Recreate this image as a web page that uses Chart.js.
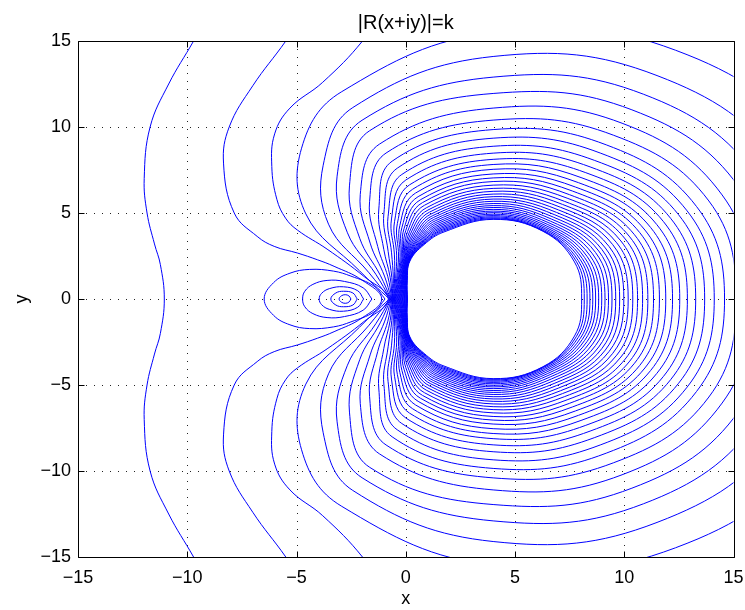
<!DOCTYPE html>
<html>
<head>
<meta charset="utf-8">
<script src="https://cdn.jsdelivr.net/npm/chart.js@4.4.1/dist/chart.umd.min.js"></script>
<style>
  html, body { margin: 0; padding: 0; background: #fff; }
  canvas { display: block; }
</style>
</head>
<body>
<canvas id="chart" width="745" height="610"></canvas>
<script>
// |R(x+iy)| = k  -- contour lines (upper half, the plot is symmetric in y)
const xTicks = [-15, -10, -5, 0, 5, 10, 15];
const yTicks = [-15, -10, -5, 0, 5, 10, 15];

// rings round the white hole: distance from (4, 0) along rays at these angles (degrees)
const ringCentre = [4, 0];
const ringAngles = [0, 30, 60, 90, 120, 135, 150, 165, 180];
const ringR0   = [16.0, 14.6, 13.5, 12.6, 11.8, 11.12, 10.59, 10.12, 9.68, 9.27, 8.89, 8.54, 8.21, 7.9, 7.61, 7.34, 7.08, 6.84, 6.61, 6.39, 6.18, 5.98, 5.79, 5.61, 5.44, 5.28, 5.12, 4.97, 4.83, 4.69, 4.56, 4.43, 4.3, 4.17, 4.05];
const ringR30  = [17.0, 15.3, 14.0, 13.0, 12.1, 11.4, 10.75, 10.25, 9.8, 9.38, 9.0, 8.65, 8.32, 8.02, 7.74, 7.47, 7.22, 6.98, 6.75, 6.53, 6.32, 6.12, 5.93, 5.75, 5.58, 5.41, 5.25, 5.1, 4.96, 4.83, 4.71, 4.6, 4.49, 4.39, 4.3];
const ringR60  = [16.7, 15.0, 13.75, 12.7, 11.8, 11.0, 10.35, 9.8, 9.3, 8.87, 8.48, 8.13, 7.81, 7.52, 7.25, 7.0, 6.77, 6.55, 6.35, 6.16, 5.98, 5.81, 5.65, 5.5, 5.36, 5.23, 5.11, 5.0, 4.9, 4.81, 4.73, 4.66, 4.6, 4.57, 4.55];
const ringR90  = [15.5, 14.1, 12.9, 11.95, 11.1, 10.4, 9.85, 9.35, 8.88, 8.48, 8.12, 7.82, 7.54, 7.27, 7.04, 6.83, 6.62, 6.43, 6.26, 6.1, 5.95, 5.81, 5.68, 5.55, 5.43, 5.32, 5.21, 5.11, 5.02, 4.93, 4.85, 4.78, 4.72, 4.67, 4.63];
const ringR120 = [13.9, 12.85, 12.0, 11.3, 10.4, 9.8, 9.25, 8.78, 8.36, 7.99, 7.66, 7.37, 7.11, 6.87, 6.66, 6.47, 6.29, 6.12, 5.97, 5.83, 5.7, 5.58, 5.47, 5.36, 5.26, 5.16, 5.07, 4.98, 4.9, 4.82, 4.75, 4.68, 4.62, 4.56, 4.5];
const ringR135 = [12.4, 11.0, 10.1, 9.3, 8.6, 8.0, 7.4, 7.07, 6.8, 6.58, 6.38, 6.2, 6.04, 5.9, 5.77, 5.65, 5.54, 5.44, 5.35, 5.26, 5.18, 5.1, 5.03, 4.96, 4.9, 4.84, 4.78, 4.73, 4.68, 4.64, 4.6, 4.56, 4.53, 4.5, 4.47];
const ringR150 = [9.9, 8.7, 7.7, 7.05, 6.5, 6.1, 5.78, 5.55, 5.37, 5.22, 5.1, 5.0, 4.92, 4.86, 4.81, 4.77, 4.73, 4.7, 4.67, 4.64, 4.62, 4.6, 4.58, 4.56, 4.54, 4.52, 4.5, 4.49, 4.47, 4.46, 4.45, 4.44, 4.43, 4.42, 4.4];
const ringR165 = [6.33, 5.88, 5.56, 5.35, 5.15, 4.99, 4.88, 4.8, 4.73, 4.67, 4.62, 4.57, 4.53, 4.49, 4.46, 4.43, 4.4, 4.37, 4.34, 4.32, 4.3, 4.28, 4.26, 4.24, 4.22, 4.2, 4.18, 4.17, 4.15, 4.14, 4.12, 4.11, 4.1, 4.08, 4.07];
const ringR180 = [4.75, 4.72, 4.7, 4.68, 4.66, 4.64, 4.62, 4.6, 4.58, 4.56, 4.54, 4.52, 4.5, 4.48, 4.45, 4.42, 4.39, 4.36, 4.33, 4.3, 4.27, 4.24, 4.21, 4.18, 4.15, 4.12, 4.09, 4.06, 4.03, 4.0, 3.98, 3.96, 3.95, 3.94, 3.92];

// open curves on the left, from the top edge down to y = 0
const leftCurve1 = [[-9.2, 16.2], [-9.71, 15], [-10.85, 12.5], [-11.7, 10], [-11.97, 7], [-11.84, 5], [-11.5, 3.2], [-11.23, 2.0], [-11.05, 0]];
const leftCurve2 = [[-4.9, 16.2], [-5.49, 15], [-7.0, 12.4], [-8.08, 10], [-8.34, 7.9], [-7.85, 5], [-6.8, 3.64], [-6.02, 3.06], [-4.95, 2.67], [-4.04, 2.28], [-3.28, 1.9], [-2.0, 1.1], [-1.1, 0]];
const leftCurve3 = [[-1.5, 16.2], [-1.98, 15], [-3.8, 12.6], [-5.3, 11.1], [-6.0, 9.6], [-6.13, 7.7], [-5.9, 5.8], [-5.5, 4.7], [-4.95, 4.0], [-3.6, 2.9], [-1.9, 1.3], [-0.8, 0]];

// closed loops round the zero near x = -2.8, from the right end over the top to the left end
const zeroLoop1 = [[-0.95, 0], [-1.45, 0.75], [-2.51, 1.33], [-3.3, 1.62], [-4.4, 1.72], [-5.3, 1.5], [-6.05, 0.95], [-6.48, 0]];
const zeroLoop2 = [[-1.55, 0], [-1.95, 0.65], [-2.8, 1.02], [-3.6, 1.08], [-4.25, 0.85], [-4.62, 0.45], [-4.72, 0]];
const zeroLoop3 = [[-1.93, 0], [-2.2, 0.48], [-2.85, 0.71], [-3.5, 0.6], [-3.85, 0.33], [-3.96, 0]];
const zeroLoop4 = [[-2.22, 0], [-2.42, 0.35], [-2.85, 0.45], [-3.2, 0.35], [-3.43, 0]];
const zeroLoop5 = [[-2.51, 0], [-2.6, 0.18], [-2.77, 0.25], [-2.95, 0.18], [-3.05, 0]];

// upper half -> whole curve, mirrored in the x axis
function mirror(upper) {
  const lower = upper.slice(0, -1).reverse().map(p => [p[0], -p[1]]);
  return upper.concat(lower).map(p => ({ x: p[0], y: p[1] }));
}

const ringRadii = [ringR0, ringR30, ringR60, ringR90, ringR120, ringR135, ringR150, ringR165, ringR180];
function ring(i) {
  const pts = [];
  const put = (deg, r) => {
    const a = deg * Math.PI / 180;
    pts.push({ x: ringCentre[0] + r * Math.cos(a), y: ringCentre[1] + r * Math.sin(a) });
  };
  for (let j = ringAngles.length - 1; j >= 0; j--) put(-ringAngles[j], ringRadii[j][i]);
  for (let j = 1; j < ringAngles.length; j++) put(ringAngles[j], ringRadii[j][i]);
  return pts;
}

const curves = [leftCurve1, leftCurve2, leftCurve3, zeroLoop1, zeroLoop2, zeroLoop3, zeroLoop4, zeroLoop5].map(mirror);
for (let i = 0; i < ringR0.length; i++) curves.push(ring(i));

const datasets = curves.map(c => ({
  data: c,
  showLine: true,
  borderColor: '#0000ff',
  borderWidth: 1,
  pointRadius: 0,
  tension: 0.4,
  fill: false
}));

const minus = v => String(v).replace('-', '\u2212');
const font = { family: 'Liberation Sans, Arial, Helvetica, sans-serif', size: 18 };

// MATLAB-like frame: dotted grid under the lines, box and inward ticks on top
const matlabAxes = {
  id: 'matlabAxes',
  beforeDatasetsDraw(chart) {
    const { ctx, chartArea: a, scales: { x, y } } = chart;
    ctx.save();
    ctx.strokeStyle = '#222';
    ctx.lineWidth = 1;
    ctx.setLineDash([1, 7]);
    ctx.beginPath();
    xTicks.slice(1, -1).forEach(v => {
      const px = Math.round(x.getPixelForValue(v)) + 0.5;
      ctx.moveTo(px, a.top); ctx.lineTo(px, a.bottom);
    });
    yTicks.slice(1, -1).forEach(v => {
      const py = Math.round(y.getPixelForValue(v)) + 0.5;
      ctx.moveTo(a.left, py); ctx.lineTo(a.right, py);
    });
    ctx.stroke();
    ctx.restore();
  },
  afterDatasetsDraw(chart) {
    const { ctx, chartArea: a, scales: { x, y } } = chart;
    const t = 6;
    ctx.save();
    ctx.strokeStyle = '#000';
    ctx.lineWidth = 1;
    ctx.beginPath();
    const l = Math.round(a.left) + 0.5, r = Math.round(a.right) + 0.5;
    const tp = Math.round(a.top) + 0.5, b = Math.round(a.bottom) + 0.5;
    ctx.rect(l, tp, r - l, b - tp);
    xTicks.forEach(v => {
      const px = Math.round(x.getPixelForValue(v)) + 0.5;
      ctx.moveTo(px, b); ctx.lineTo(px, b - t);
      ctx.moveTo(px, tp); ctx.lineTo(px, tp + t);
    });
    yTicks.forEach(v => {
      const py = Math.round(y.getPixelForValue(v)) + 0.5;
      ctx.moveTo(l, py); ctx.lineTo(l + t, py);
      ctx.moveTo(r, py); ctx.lineTo(r - t, py);
    });
    ctx.stroke();
    ctx.restore();
  }
};

new Chart(document.getElementById('chart'), {
  type: 'scatter',
  data: { datasets },
  options: {
    responsive: false,
    animation: false,
    devicePixelRatio: 1,
    layout: { padding: { left: 0, right: 11.5, top: 0, bottom: 0 } },
    elements: { line: { capBezierPoints: false } },
    plugins: {
      legend: { display: false },
      tooltip: { enabled: false },
      title: {
        display: true,
        fullSize: false,
        text: '|R(x+iy)|=k',
        color: '#000',
        font: { ...font, size: 20, weight: 'normal' },
        padding: { top: 11, bottom: 6 }
      }
    },
    scales: {
      x: {
        type: 'linear', min: -15, max: 15,
        // labels may hang over the box ends, as in the picture
        afterFit: s => { s.height = 53; s.paddingLeft = 0; s.paddingRight = 0; },
        afterBuildTicks: s => { s.ticks = xTicks.map(v => ({ value: v })); },
        ticks: { color: '#000', font, padding: 10, maxRotation: 0, callback: minus },
        grid: { display: false, drawTicks: false },
        border: { display: false },
        title: { display: true, text: 'x', color: '#000', font, padding: { top: 0, bottom: 0 } }
      },
      y: {
        type: 'linear', min: -15, max: 15,
        afterFit: s => { s.width = 78; },
        afterBuildTicks: s => { s.ticks = yTicks.map(v => ({ value: v })); },
        ticks: { color: '#000', font, padding: 7, callback: minus },
        grid: { display: false, drawTicks: false },
        border: { display: false },
        title: { display: true, text: 'y', color: '#000', font, padding: { top: 11, bottom: 0 } }
      }
    }
  },
  plugins: [matlabAxes]
});
</script>
</body>
</html>
